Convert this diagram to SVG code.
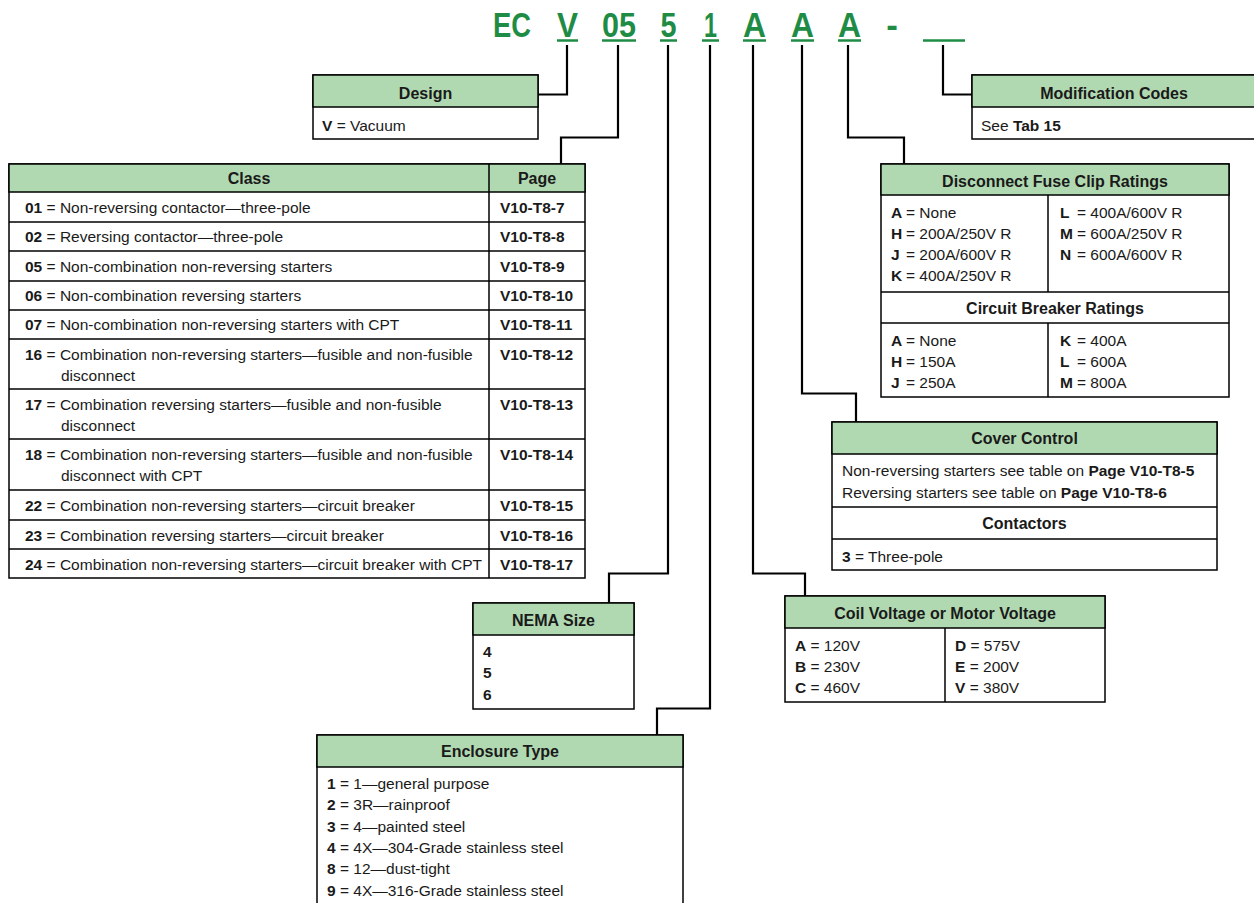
<svg xmlns="http://www.w3.org/2000/svg" width="1254" height="903" viewBox="0 0 1254 903">
<style>
text{font-family:"Liberation Sans",Arial,sans-serif;font-size:15.5px;fill:#1a1a1a}
.b{font-weight:bold}
.h{font-weight:bold;text-anchor:middle;font-size:16px}
.code{font-family:"Liberation Sans",Arial,sans-serif;font-weight:bold;font-size:35px;fill:#1f8c46;text-anchor:middle}
.hdr{fill:#b1d9b1;stroke:#000;stroke-width:1.5}
.box{fill:#fff;stroke:#000;stroke-width:1.5}
.ln{stroke:#000;stroke-width:1.5;fill:none}
.con{stroke:#000;stroke-width:2.2;fill:none}
.ul{stroke:#1f8c46;stroke-width:2.5}
</style>

<g id="code">
<text class="code" x="512" y="37" textLength="38" lengthAdjust="spacingAndGlyphs">EC</text>
<text class="code" x="567.5" y="37" textLength="21" lengthAdjust="spacingAndGlyphs">V</text>
<text class="code" x="619" y="37" textLength="34" lengthAdjust="spacingAndGlyphs">05</text>
<text class="code" x="668.5" y="37" textLength="16" lengthAdjust="spacingAndGlyphs">5</text>
<text class="code" x="710.5" y="37" textLength="13" lengthAdjust="spacingAndGlyphs">1</text>
<text class="code" x="754.5" y="37" textLength="23" lengthAdjust="spacingAndGlyphs">A</text>
<text class="code" x="802.5" y="37" textLength="23" lengthAdjust="spacingAndGlyphs">A</text>
<text class="code" x="849.5" y="37" textLength="23" lengthAdjust="spacingAndGlyphs">A</text>
<text class="code" x="892" y="37">-</text>
<line class="ul" x1="557" y1="40.5" x2="578" y2="40.5"/>
<line class="ul" x1="602" y1="40.5" x2="636" y2="40.5"/>
<line class="ul" x1="660" y1="40.5" x2="677" y2="40.5"/>
<line class="ul" x1="702" y1="40.5" x2="719" y2="40.5"/>
<line class="ul" x1="743" y1="40.5" x2="766" y2="40.5"/>
<line class="ul" x1="791" y1="40.5" x2="814" y2="40.5"/>
<line class="ul" x1="838" y1="40.5" x2="861" y2="40.5"/>
<line class="ul" x1="923" y1="40.5" x2="965" y2="40.5"/>
</g>

<g id="connectors">
<polyline class="con" points="567,45 567,94.5 538,94.5"/>
<polyline class="con" points="618,45 618,137.5 561,137.5 561,164"/>
<polyline class="con" points="668,45 668,573.5 609,573.5 609,603"/>
<polyline class="con" points="710,45 710,708.5 657,708.5 657,735"/>
<polyline class="con" points="753,45 753,573.5 805,573.5 805,596"/>
<polyline class="con" points="802,45 802,393.5 856,393.5 856,422"/>
<polyline class="con" points="848,45 848,137.5 904,137.5 904,164"/>
<polyline class="con" points="943,45 943,94.5 972,94.5"/>
</g>

<g id="design">
<rect class="box" x="313" y="75" width="225" height="64"/>
<rect class="hdr" x="313" y="75" width="225" height="32"/>
<text class="h" x="425.5" y="99">Design</text>
<text x="322" y="131"><tspan class="b">V</tspan> = Vacuum</text>
</g>

<g id="modification">
<rect class="box" x="972" y="75" width="290" height="64"/>
<rect class="hdr" x="972" y="75" width="290" height="32"/>
<text class="h" x="1114" y="99">Modification Codes</text>
<text x="981" y="131">See <tspan class="b">Tab 15</tspan></text>
</g>

<g id="class">
<rect class="box" x="9" y="164" width="576" height="414"/>
<rect class="hdr" x="9" y="164" width="576" height="28"/>
<line class="ln" x1="489" y1="164" x2="489" y2="578"/>
<line class="ln" x1="9" y1="222" x2="585" y2="222"/>
<line class="ln" x1="9" y1="251" x2="585" y2="251"/>
<line class="ln" x1="9" y1="281" x2="585" y2="281"/>
<line class="ln" x1="9" y1="310" x2="585" y2="310"/>
<line class="ln" x1="9" y1="339" x2="585" y2="339"/>
<line class="ln" x1="9" y1="389" x2="585" y2="389"/>
<line class="ln" x1="9" y1="439" x2="585" y2="439"/>
<line class="ln" x1="9" y1="490" x2="585" y2="490"/>
<line class="ln" x1="9" y1="520" x2="585" y2="520"/>
<line class="ln" x1="9" y1="549" x2="585" y2="549"/>
<text class="h" x="249" y="184">Class</text>
<text class="h" x="537" y="184">Page</text>
<text x="25" y="213"><tspan class="b">01</tspan> = Non-reversing contactor—three-pole</text>
<text x="25" y="242"><tspan class="b">02</tspan> = Reversing contactor—three-pole</text>
<text x="25" y="272"><tspan class="b">05</tspan> = Non-combination non-reversing starters</text>
<text x="25" y="301"><tspan class="b">06</tspan> = Non-combination reversing starters</text>
<text x="25" y="330"><tspan class="b">07</tspan> = Non-combination non-reversing starters with CPT</text>
<text x="25" y="360"><tspan class="b">16</tspan> = Combination non-reversing starters—fusible and non-fusible</text>
<text x="61" y="381">disconnect</text>
<text x="25" y="410"><tspan class="b">17</tspan> = Combination reversing starters—fusible and non-fusible</text>
<text x="61" y="431">disconnect</text>
<text x="25" y="460"><tspan class="b">18</tspan> = Combination non-reversing starters—fusible and non-fusible</text>
<text x="61" y="481">disconnect with CPT</text>
<text x="25" y="511"><tspan class="b">22</tspan> = Combination non-reversing starters—circuit breaker</text>
<text x="25" y="541"><tspan class="b">23</tspan> = Combination reversing starters—circuit breaker</text>
<text x="25" y="570"><tspan class="b">24</tspan> = Combination non-reversing starters—circuit breaker with CPT</text>
<text class="b" x="500" y="213">V10-T8-7</text>
<text class="b" x="500" y="242">V10-T8-8</text>
<text class="b" x="500" y="272">V10-T8-9</text>
<text class="b" x="500" y="301">V10-T8-10</text>
<text class="b" x="500" y="330">V10-T8-11</text>
<text class="b" x="500" y="360">V10-T8-12</text>
<text class="b" x="500" y="410">V10-T8-13</text>
<text class="b" x="500" y="460">V10-T8-14</text>
<text class="b" x="500" y="511">V10-T8-15</text>
<text class="b" x="500" y="541">V10-T8-16</text>
<text class="b" x="500" y="570">V10-T8-17</text>
</g>

<g id="disconnect">
<rect class="box" x="881" y="164" width="348" height="233"/>
<rect class="hdr" x="881" y="164" width="348" height="31"/>
<line class="ln" x1="1048" y1="195" x2="1048" y2="292"/>
<line class="ln" x1="881" y1="292" x2="1229" y2="292"/>
<line class="ln" x1="881" y1="323" x2="1229" y2="323"/>
<line class="ln" x1="1048" y1="323" x2="1048" y2="397"/>
<text class="h" x="1055" y="187">Disconnect Fuse Clip Ratings</text>
<text class="b" x="891" y="218">A</text><text x="906" y="218">= None</text>
<text class="b" x="891" y="239">H</text><text x="906" y="239">= 200A/250V R</text>
<text class="b" x="891" y="260">J</text><text x="906" y="260">= 200A/600V R</text>
<text class="b" x="891" y="281">K</text><text x="906" y="281">= 400A/250V R</text>
<text class="b" x="1060" y="218">L</text><text x="1077" y="218">= 400A/600V R</text>
<text class="b" x="1060" y="239">M</text><text x="1077" y="239">= 600A/250V R</text>
<text class="b" x="1060" y="260">N</text><text x="1077" y="260">= 600A/600V R</text>
<text class="h" x="1055" y="314">Circuit Breaker Ratings</text>
<text class="b" x="891" y="346">A</text><text x="906" y="346">= None</text>
<text class="b" x="891" y="367">H</text><text x="906" y="367">= 150A</text>
<text class="b" x="891" y="388">J</text><text x="906" y="388">= 250A</text>
<text class="b" x="1060" y="346">K</text><text x="1077" y="346">= 400A</text>
<text class="b" x="1060" y="367">L</text><text x="1077" y="367">= 600A</text>
<text class="b" x="1060" y="388">M</text><text x="1077" y="388">= 800A</text>
</g>

<g id="cover">
<rect class="box" x="832" y="422" width="385" height="148"/>
<rect class="hdr" x="832" y="422" width="385" height="32"/>
<line class="ln" x1="832" y1="507" x2="1217" y2="507"/>
<line class="ln" x1="832" y1="539" x2="1217" y2="539"/>
<text class="h" x="1024.5" y="444">Cover Control</text>
<text x="842" y="476">Non-reversing starters see table on <tspan class="b">Page V10-T8-5</tspan></text>
<text x="842" y="498">Reversing starters see table on <tspan class="b">Page V10-T8-6</tspan></text>
<text class="h" x="1024.5" y="529">Contactors</text>
<text x="842" y="562"><tspan class="b">3</tspan> = Three-pole</text>
</g>

<g id="coil">
<rect class="box" x="785" y="596" width="320" height="106"/>
<rect class="hdr" x="785" y="596" width="320" height="32"/>
<line class="ln" x1="945" y1="628" x2="945" y2="702"/>
<text class="h" x="945" y="619">Coil Voltage or Motor Voltage</text>
<text x="795" y="651"><tspan class="b">A</tspan> = 120V</text>
<text x="795" y="672"><tspan class="b">B</tspan> = 230V</text>
<text x="795" y="693"><tspan class="b">C</tspan> = 460V</text>
<text x="955" y="651"><tspan class="b">D</tspan> = 575V</text>
<text x="955" y="672"><tspan class="b">E</tspan> = 200V</text>
<text x="955" y="693"><tspan class="b">V</tspan> = 380V</text>
</g>

<g id="nema">
<rect class="box" x="473" y="603" width="161" height="106"/>
<rect class="hdr" x="473" y="603" width="161" height="32"/>
<text class="h" x="553.5" y="626">NEMA Size</text>
<text class="b" x="483" y="657">4</text>
<text class="b" x="483" y="678">5</text>
<text class="b" x="483" y="700">6</text>
</g>

<g id="enclosure">
<rect class="box" x="317" y="735" width="366" height="180"/>
<rect class="hdr" x="317" y="735" width="366" height="32"/>
<text class="h" x="500" y="757">Enclosure Type</text>
<text x="327" y="789"><tspan class="b">1</tspan> = 1—general purpose</text>
<text x="327" y="810"><tspan class="b">2</tspan> = 3R—rainproof</text>
<text x="327" y="832"><tspan class="b">3</tspan> = 4—painted steel</text>
<text x="327" y="853"><tspan class="b">4</tspan> = 4X—304-Grade stainless steel</text>
<text x="327" y="874"><tspan class="b">8</tspan> = 12—dust-tight</text>
<text x="327" y="896"><tspan class="b">9</tspan> = 4X—316-Grade stainless steel</text>
</g>
</svg>
